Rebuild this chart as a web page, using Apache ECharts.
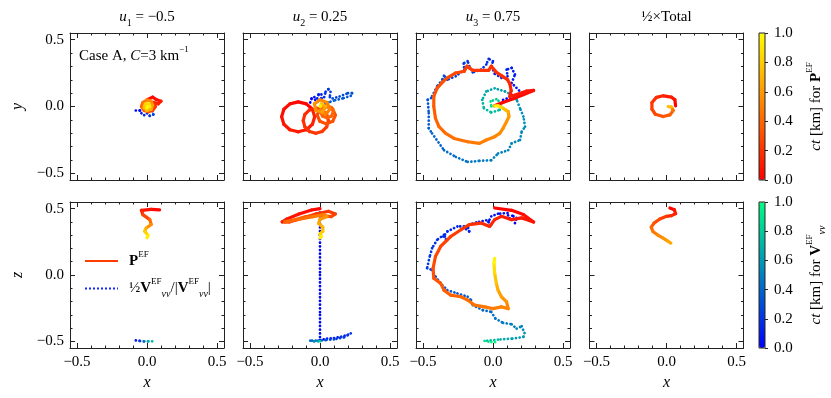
<!DOCTYPE html>
<html>
<head>
<meta charset="utf-8">
<script src="https://cdn.jsdelivr.net/npm/echarts@6/dist/echarts.min.js"></script>
<style>
  html, body { margin: 0; padding: 0; background: #fff; }
  #main { width: 831px; height: 398px; }
</style>
</head>
<body>
<div id="main"></div>
<script>
var FONT = 'Liberation Serif';
var lim = [-0.55, 0.55];
var majorTicks = [-0.5, 0.0, 0.5];
var minorTicks = [-0.4, -0.3, -0.2, -0.1, 0.1, 0.2, 0.3, 0.4];
var cbTicks = [0, 0.2, 0.4, 0.6, 0.8, 1.0];
var titles = ['{i|u}{s|1}{n| = −0.5}', '{i|u}{s|2}{n| = 0.25}', '{i|u}{s|3}{n| = 0.75}', '{n|½×Total}'];

// points are [x, y or z, ct]
var vXY1 = [[-0.08,-0.03,0],[-0.05,-0.03,0.04],[-0.04,-0.05,0.08],[-0.02,-0.065,0.12],[0.0,-0.05,0.16],[0.02,-0.07,0.2],[0.045,-0.06,0.24],[0.04,-0.035,0.28],[0.02,-0.02,0.32],[0.0,-0.01,0.36]];
var pXY1 = [[0.00,0.05,0.0],[0.04,0.07,0.03],[0.07,0.05,0.06],[0.10,0.04,0.09],[0.08,0.02,0.12],[0.05,0.03,0.15],[0.06,0.0,0.2],[0.04,-0.03,0.25],[0.01,-0.04,0.3],[-0.02,-0.03,0.35],[-0.04,0.0,0.4],[-0.03,0.03,0.45],[0.0,0.05,0.5],[0.03,0.04,0.55],[0.04,0.01,0.6],[0.03,-0.02,0.65],[0.0,-0.03,0.7],[-0.02,-0.01,0.75],[-0.01,0.02,0.8],[0.01,0.02,0.85],[0.02,0.0,0.9],[0.0,-0.01,0.95],[0.0,0.0,1.0]];
var vXZ1 = [[-0.08,-0.493,0],[-0.05,-0.497,0.15],[-0.02,-0.5,0.35],[0.01,-0.5,0.6],[0.05,-0.5,0.85]];
var pXZ1 = [[0.09,0.49,0],[0.03,0.495,0.05],[-0.04,0.487,0.1],[-0.03,0.455,0.2],[0.02,0.417,0.35],[0.03,0.38,0.5],[-0.005,0.354,0.62],[-0.017,0.33,0.75],[0.007,0.30,0.88],[0.0,0.28,1.0]];

var vXY2 = [[-0.07,0.03,0],[-0.06,0.06,0.02],[-0.04,0.07,0.04],[-0.035,0.05,0.06],[-0.02,0.06,0.08],[-0.01,0.09,0.10],[0.01,0.09,0.12],[0.01,0.06,0.14],[0.03,0.07,0.16],[0.04,0.11,0.18],[0.06,0.13,0.2],[0.075,0.11,0.22],[0.07,0.07,0.24],[0.09,0.06,0.26],[0.14,0.075,0.28],[0.2,0.1,0.3],[0.23,0.1,0.31],[0.22,0.08,0.32],[0.16,0.06,0.34],[0.1,0.045,0.36],[0.06,0.03,0.38],[0.02,0.01,0.4],[0.0,0.0,0.45]];
var pXY2 = [[-0.054,-0.021,0],[-0.097,0.020,0.012],[-0.156,0.035,0.024],[-0.215,0.020,0.036],[-0.258,-0.021,0.048],[-0.274,-0.077,0.06],[-0.258,-0.133,0.072],[-0.215,-0.174,0.084],[-0.156,-0.189,0.096],[-0.097,-0.174,0.108],[-0.054,-0.133,0.12],[-0.038,-0.077,0.132],[-0.054,-0.021,0.144],
  [-0.075,-0.025,0.16],[-0.108,-0.059,0.17],[-0.12,-0.106,0.18],[-0.108,-0.153,0.19],[-0.075,-0.187,0.2],[-0.03,-0.2,0.21],[0.015,-0.187,0.22],[0.048,-0.153,0.23],[0.06,-0.106,0.24],[0.048,-0.059,0.25],[0.015,-0.025,0.26],[-0.03,-0.012,0.27],
  [-0.001,-0.019,0.28],[-0.02,-0.065,0.29],[-0.001,-0.111,0.3],[0.045,-0.13,0.31],[0.091,-0.111,0.32],[0.11,-0.065,0.33],[0.091,-0.019,0.34],[0.045,0.0,0.35],
  [0.005,-0.04,0.36],[0.018,-0.072,0.37],[0.05,-0.085,0.38],[0.082,-0.072,0.39],[0.095,-0.04,0.4],[0.082,-0.008,0.41],[0.05,0.005,0.42],
  [0.02,0.0,0.44],[0.0,-0.04,0.46],[0.04,-0.06,0.48],[0.07,-0.02,0.5],[0.05,0.03,0.52],[0.0,0.05,0.54],[-0.04,0.02,0.56],[-0.03,-0.03,0.58],[0.02,-0.04,0.6],[0.04,0.0,0.64],[0.01,0.02,0.7],[0.005,0.005,0.85],[0.0,0.0,1.0]];
var vXZ2 = [[0.0,0.47,0],[0.0,0.3,0.01],[0.0,0.0,0.02],[0.0,-0.3,0.03],[0.0,-0.49,0.04],[0.05,-0.48,0.07],[0.1,-0.475,0.1],[0.15,-0.465,0.13],[0.2,-0.45,0.16],[0.22,-0.44,0.18],[0.17,-0.47,0.21],[0.1,-0.485,0.25],[0.04,-0.49,0.3],[-0.03,-0.495,0.35],[-0.07,-0.495,0.4],[-0.04,-0.5,0.5],[0.0,-0.5,0.7],[0.01,-0.5,1.0]];
var pXZ2 = [[0.0,0.50,0],[-0.06,0.49,0.03],[-0.15,0.46,0.06],[-0.24,0.42,0.09],[-0.27,0.40,0.11],[-0.22,0.40,0.13],[-0.12,0.43,0.16],[-0.03,0.46,0.19],[0.06,0.48,0.22],[0.11,0.46,0.25],[0.08,0.44,0.28],[0.0,0.45,0.31],[-0.1,0.44,0.34],[-0.2,0.41,0.37],[-0.25,0.40,0.39],[-0.15,0.42,0.42],[-0.05,0.44,0.45],[0.03,0.455,0.5],[0.05,0.44,0.55],[0.0,0.42,0.6],[-0.01,0.39,0.65],[0.02,0.36,0.7],[0.02,0.33,0.75],[0.0,0.31,0.8],[0.01,0.29,0.9],[0.0,0.28,1.0]];

var vXY3 = [[0.072,0.05,0],[0.181,0.088,0.02],[0.29,0.12,0.04],[0.205,0.1,0.06],[0.133,0.176,0.08],[0.157,0.239,0.09],[0.133,0.289,0.1],[0.097,0.276,0.11],[0.104,0.226,0.12],[0.06,0.214,0.13],[0.012,0.246,0.14],
  [-0.012,0.302,0.15],[0.0,0.339,0.16],[-0.031,0.357,0.17],[-0.048,0.314,0.18],[-0.085,0.276,0.19],[-0.145,0.256,0.2],[-0.169,0.302,0.21],[-0.181,0.339,0.22],[-0.21,0.322,0.23],[-0.205,0.276,0.24],[-0.266,0.226,0.26],
  [-0.326,0.201,0.27],[-0.35,0.231,0.28],[-0.362,0.201,0.29],[-0.399,0.151,0.3],[-0.442,0.063,0.32],[-0.466,0.05,0.33],[-0.459,-0.05,0.35],[-0.459,-0.163,0.37],[-0.435,-0.201,0.38],[-0.35,-0.327,0.41],[-0.266,-0.377,0.43],[-0.181,-0.415,0.45],[-0.097,-0.407,0.47],[-0.012,-0.402,0.49],[0.036,-0.352,0.5],[0.109,-0.327,0.51],[0.133,-0.276,0.52],[0.193,-0.251,0.53],[0.205,-0.188,0.54],[0.229,-0.151,0.55],[0.217,-0.075,0.56],[0.193,-0.013,0.57],[0.169,0.05,0.58],[0.133,0.088,0.6],[0.085,0.113,0.62],
  [0.012,0.136,0.65],[-0.048,0.113,0.67],[-0.077,0.05,0.69],[-0.065,-0.013,0.71],[-0.012,-0.045,0.73],[0.048,-0.025,0.75],[0.06,0.025,0.77],[0.024,0.055,0.8],[-0.017,0.038,0.84],[-0.012,0.0,0.9],[0.007,0.0,1.0]];
var pXY3 = [[0.01,0.005,0],[0.07,0.03,0.015],[0.15,0.06,0.03],[0.22,0.09,0.045],[0.29,0.12,0.06],[0.24,0.115,0.075],[0.17,0.09,0.09],[0.12,0.075,0.105],[0.13,0.12,0.12],[0.12,0.17,0.14],
  [0.104,0.201,0.16],[0.06,0.231,0.17],[0.024,0.256,0.18],[-0.012,0.302,0.19],[-0.031,0.271,0.2],[-0.085,0.271,0.21],[-0.145,0.271,0.22],[-0.169,0.289,0.23],[-0.186,0.302,0.24],[-0.205,0.264,0.25],[-0.266,0.251,0.27],[-0.326,0.214,0.29],[-0.355,0.188,0.3],
  [-0.399,0.138,0.32],[-0.423,0.075,0.34],[-0.423,0.0,0.36],[-0.411,-0.088,0.38],[-0.386,-0.151,0.4],[-0.338,-0.201,0.42],[-0.278,-0.239,0.44],[-0.181,-0.264,0.46],[-0.097,-0.276,0.48],[-0.048,-0.251,0.5],[0.012,-0.226,0.52],[0.048,-0.201,0.54],[0.072,-0.163,0.56],[0.097,-0.113,0.58],[0.114,-0.075,0.6],[0.109,-0.038,0.64],[0.089,-0.025,0.7],[0.06,-0.005,0.8],[0.036,0.005,0.9],[0.012,0.005,1.0]];
var vXZ3 = [[0.157,0.391,0],[0.169,0.429,0.01],[0.138,0.447,0.02],[0.114,0.422,0.03],[0.104,0.467,0.04],[0.036,0.462,0.05],[-0.012,0.442,0.06],[-0.031,0.404,0.07],[-0.012,0.379,0.08],[-0.048,0.412,0.09],[-0.121,0.396,0.1],[-0.169,0.379,0.11],[-0.193,0.346,0.12],[-0.169,0.328,0.125],[-0.181,0.366,0.13],[-0.254,0.366,0.14],[-0.326,0.328,0.15],[-0.355,0.29,0.16],[-0.331,0.265,0.165],[-0.35,0.303,0.17],[-0.399,0.265,0.18],[-0.435,0.202,0.2],[-0.452,0.139,0.22],[-0.471,0.051,0.24],[-0.435,0.038,0.25],[-0.411,-0.013,0.27],[-0.362,-0.076,0.29],[-0.326,-0.114,0.31],[-0.254,-0.139,0.33],[-0.181,-0.164,0.35],[-0.157,-0.189,0.36],[-0.145,-0.227,0.38],[-0.072,-0.265,0.4],[-0.012,-0.278,0.42],[0.017,-0.328,0.44],[0.072,-0.361,0.46],[0.133,-0.371,0.48],[0.169,-0.404,0.5],[0.205,-0.386,0.52],[0.225,-0.437,0.55],[0.217,-0.467,0.58],[0.133,-0.48,0.62],[0.036,-0.487,0.7],[-0.06,-0.497,0.8],[-0.012,-0.505,0.95],[0.024,-0.505,1.0]];
var pXZ3 = [[0.012,0.505,0],[0.133,0.487,0.02],[0.217,0.455,0.04],[0.29,0.399,0.06],[0.205,0.43,0.08],[0.133,0.417,0.1],[0.06,0.442,0.12],[0.012,0.417,0.14],[-0.024,0.366,0.16],[-0.085,0.391,0.18],[-0.169,0.379,0.2],[-0.229,0.341,0.22],[-0.302,0.29,0.24],[-0.374,0.215,0.26],[-0.411,0.139,0.28],[-0.428,0.051,0.3],[-0.423,-0.025,0.32],[-0.374,-0.063,0.34],[-0.35,-0.114,0.36],[-0.302,-0.152,0.38],[-0.229,-0.164,0.4],[-0.181,-0.189,0.42],[-0.133,-0.227,0.44],[-0.06,-0.24,0.46],[0.0,-0.253,0.48],[0.06,-0.24,0.5],[0.109,-0.253,0.52],[0.097,-0.202,0.55],[0.06,-0.164,0.6],[0.036,-0.114,0.65],[0.024,-0.063,0.72],[0.012,0.013,0.82],[0.007,0.088,0.92],[0.012,0.126,1.0]];

var pXY4 = [[0.065,0.005,0],[0.06,0.05,0.04],[0.036,0.07,0.08],[-0.024,0.08,0.12],[-0.072,0.068,0.16],[-0.104,0.03,0.2],[-0.104,-0.02,0.24],[-0.08,-0.058,0.28],[-0.024,-0.075,0.32],[0.024,-0.063,0.36],[0.048,-0.03,0.4],[0.036,-0.005,0.5],[0.012,0.0,1.0]];
var pXZ4 = [[0.024,0.505,0],[0.056,0.492,0.05],[0.065,0.462,0.1],[0.036,0.447,0.15],[0.0,0.442,0.2],[-0.048,0.422,0.26],[-0.089,0.391,0.32],[-0.109,0.361,0.38],[-0.097,0.328,0.44],[-0.065,0.303,0.5],[-0.024,0.278,0.56],[0.012,0.253,0.62],[0.031,0.24,0.7]];

var curves = [
  {grid: 0, kind: 'V', pts: vXY1}, {grid: 0, kind: 'P', pts: pXY1},
  {grid: 1, kind: 'V', pts: vXY2}, {grid: 1, kind: 'P', pts: pXY2},
  {grid: 2, kind: 'V', pts: vXY3}, {grid: 2, kind: 'P', pts: pXY3},
  {grid: 3, kind: 'P', pts: pXY4},
  {grid: 4, kind: 'V', pts: vXZ1}, {grid: 4, kind: 'P', pts: pXZ1},
  {grid: 5, kind: 'V', pts: vXZ2}, {grid: 5, kind: 'P', pts: pXZ2},
  {grid: 6, kind: 'V', pts: vXZ3}, {grid: 6, kind: 'P', pts: pXZ3},
  {grid: 7, kind: 'P', pts: pXZ4}
];

var colLeft = [70, 243, 416, 589.5];
var rowTop = [33, 202];
var rowH = [147, 146];
var panelW = 154;

var rich = {
  n: {fontFamily: FONT, fontSize: 15, color: '#000', fontWeight: 'normal', lineHeight: 22},
  i: {fontFamily: FONT, fontSize: 15, color: '#000', fontWeight: 'normal', fontStyle: 'italic', lineHeight: 22},
  b: {fontFamily: FONT, fontSize: 15, color: '#000', fontWeight: 'bold', lineHeight: 22},
  s: {fontFamily: FONT, fontSize: 10, color: '#000', fontWeight: 'normal', lineHeight: 12, verticalAlign: 'bottom'},
  si: {fontFamily: FONT, fontSize: 10, color: '#000', fontWeight: 'normal', fontStyle: 'italic', lineHeight: 12, verticalAlign: 'bottom'},
  sup: {fontFamily: FONT, fontSize: 9, color: '#000', fontWeight: 'normal', lineHeight: 12, verticalAlign: 'top'},
  g: {fontSize: 15, width: 6, lineHeight: 22}
};

function fmt(v) {
  return (v < 0 ? '−' : '') + Math.abs(v).toFixed(1);
}

function segs(pts) {
  var out = [];
  for (var i = 0; i < pts.length - 1; i++) {
    out.push([pts[i][0], pts[i][1], pts[i + 1][0], pts[i + 1][1], (pts[i][2] + pts[i + 1][2]) / 2]);
  }
  return out;
}

function drawSeg(dash, width) {
  return function (params, api) {
    var a = api.coord([api.value(0), api.value(1)]);
    var b = api.coord([api.value(2), api.value(3)]);
    return {
      type: 'line',
      shape: {x1: a[0], y1: a[1], x2: b[0], y2: b[1]},
      style: {stroke: api.visual('color'), lineWidth: width, lineCap: 'round', lineDash: dash}
    };
  };
}

var grids = [], xAxes = [], yAxes = [];
for (var r = 0; r < 2; r++) {
  for (var c = 0; c < 4; c++) {
    var g = grids.length;
    grids.push({left: colLeft[c], top: rowTop[r], width: panelW, height: rowH[r]});
    ['bottom', 'top'].forEach(function (pos) {
      var lab = pos === 'bottom' && r === 1;
      xAxes.push({
        gridIndex: g, type: 'value', position: pos, min: lim[0], max: lim[1],
        splitLine: {show: false},
        axisLine: {show: true, onZero: false, lineStyle: {color: '#222', width: 1}},
        axisTick: {show: true, inside: true, length: 5, customValues: majorTicks, lineStyle: {color: '#222'}},
        axisLabel: {show: lab, customValues: majorTicks, formatter: fmt, margin: 7, fontSize: 15, color: '#000', fontFamily: FONT},
        name: lab ? 'x' : '', nameLocation: 'middle', nameGap: 27,
        nameTextStyle: {fontFamily: FONT, fontSize: 16, fontStyle: 'italic', color: '#000'}
      });
      xAxes.push({
        gridIndex: g, type: 'value', position: pos, min: lim[0], max: lim[1],
        splitLine: {show: false}, axisLine: {show: false, onZero: false},
        axisTick: {show: true, inside: true, length: 2.5, customValues: minorTicks, lineStyle: {color: '#222'}},
        axisLabel: {show: false}
      });
    });
    ['left', 'right'].forEach(function (pos) {
      var lab = pos === 'left' && c === 0;
      yAxes.push({
        gridIndex: g, type: 'value', position: pos, min: lim[0], max: lim[1],
        splitLine: {show: false},
        axisLine: {show: true, onZero: false, lineStyle: {color: '#222', width: 1}},
        axisTick: {show: true, inside: true, length: 5, customValues: majorTicks, lineStyle: {color: '#222'}},
        axisLabel: {show: lab, customValues: majorTicks, formatter: fmt, margin: 6, fontSize: 15, color: '#000', fontFamily: FONT},
        name: lab ? (r === 0 ? 'y' : 'z') : '', nameLocation: 'middle', nameGap: 44, nameRotate: 90,
        nameTextStyle: {fontFamily: FONT, fontSize: 16, fontStyle: 'italic', color: '#000'}
      });
      yAxes.push({
        gridIndex: g, type: 'value', position: pos, min: lim[0], max: lim[1],
        splitLine: {show: false}, axisLine: {show: false, onZero: false},
        axisTick: {show: true, inside: true, length: 2.5, customValues: minorTicks, lineStyle: {color: '#222'}},
        axisLabel: {show: false}
      });
    });
  }
}

// colorbar frames and tick axes
var cbNames = ['{i|ct}{n| [km] for }{b|P}{sup|EF}', '{i|ct}{n| [km] for }{b|V}{sup|EF}{si|νν}'];
for (var k = 0; k < 2; k++) {
  var gi = grids.length;
  grids.push({left: 759, top: rowTop[k], width: 6, height: rowH[k], show: true, borderColor: '#222', borderWidth: 1, z: 10});
  xAxes.push({gridIndex: gi, type: 'value', show: false, min: 0, max: 1});
  yAxes.push({
    gridIndex: gi, type: 'value', position: 'right', min: 0, max: 1, interval: 0.2,
    splitLine: {show: false},
    axisLine: {show: false, onZero: false},
    axisTick: {show: true, inside: false, length: 3, customValues: cbTicks, lineStyle: {color: '#222'}},
    axisLabel: {customValues: cbTicks, formatter: fmt, margin: 9, fontSize: 15, color: '#000', fontFamily: FONT},
    name: cbNames[k], nameLocation: 'middle', nameGap: 40, nameRotate: 90,
    nameTextStyle: {rich: rich}
  });
}

var series = [], pIdx = [], vIdx = [];
curves.forEach(function (cv) {
  (cv.kind === 'P' ? pIdx : vIdx).push(series.length);
  series.push({
    type: 'custom',
    xAxisIndex: 4 * cv.grid, yAxisIndex: 4 * cv.grid,
    data: segs(cv.pts),
    encode: {x: [0, 2], y: [1, 3]},
    renderItem: cv.kind === 'P' ? drawSeg(null, 3.2) : drawSeg([0.1, 3.6], 2.7),
    silent: true,
    z: cv.kind === 'P' ? 3 : 2
  });
});

// legend entries
series.push({type: 'line', name: 'P', data: [], xAxisIndex: 16, yAxisIndex: 16, symbol: 'none',
  lineStyle: {color: '#ff3d00', width: 2.5}, itemStyle: {color: '#ff3d00'}});
series.push({type: 'line', name: 'V', data: [], xAxisIndex: 16, yAxisIndex: 16, symbol: 'none',
  lineStyle: {color: '#1428ff', width: 2.5, type: 'dotted'}, itemStyle: {color: '#1428ff'}});

var titleList = titles.map(function (t, i) {
  return {text: t, left: colLeft[i] + panelW / 2, top: 6, textAlign: 'center', padding: 0,
    textStyle: {fontWeight: 'normal', rich: rich}};
});
titleList.push({text: '{n|Case A, }{i|C}{n|=3 km}{sup|−1}', left: 79, top: 45, padding: 0,
  textStyle: {fontWeight: 'normal', rich: rich}});

var myChart = echarts.init(document.getElementById('main'));
var option = {
  animation: false,
  textStyle: {fontFamily: FONT},
  title: titleList,
  grid: grids,
  xAxis: xAxes,
  yAxis: yAxes,
  legend: {
    data: ['P', 'V'], orient: 'vertical', left: 84, top: 250, padding: 0,
    itemWidth: 33, itemHeight: 12, itemGap: 9, selectedMode: false,
    itemStyle: {opacity: 0},
    formatter: function (name) {
      return name === 'P' ? '{g| }{b|P}{sup|EF}' : '{g| }{n|½}{b|V}{sup|EF}{si|νν}{n|/|}{b|V}{sup|EF}{si|νν}{n||}';
    },
    textStyle: {rich: rich}
  },
  visualMap: [
    {type: 'continuous', min: 0, max: 1, dimension: 4, seriesIndex: pIdx, orient: 'vertical',
      left: 759, top: rowTop[0], itemWidth: 6, itemHeight: rowH[0], padding: 0, calculable: false, hoverLink: false,
      inRange: {color: ['#ff0000', '#ffff00']}},
    {type: 'continuous', min: 0, max: 1, dimension: 4, seriesIndex: vIdx, orient: 'vertical',
      left: 759, top: rowTop[1], itemWidth: 6, itemHeight: rowH[1], padding: 0, calculable: false, hoverLink: false,
      inRange: {color: ['#0000ff', '#00ff80']}}
  ],
  series: series
};
myChart.setOption(option);
</script>
</body>
</html>
